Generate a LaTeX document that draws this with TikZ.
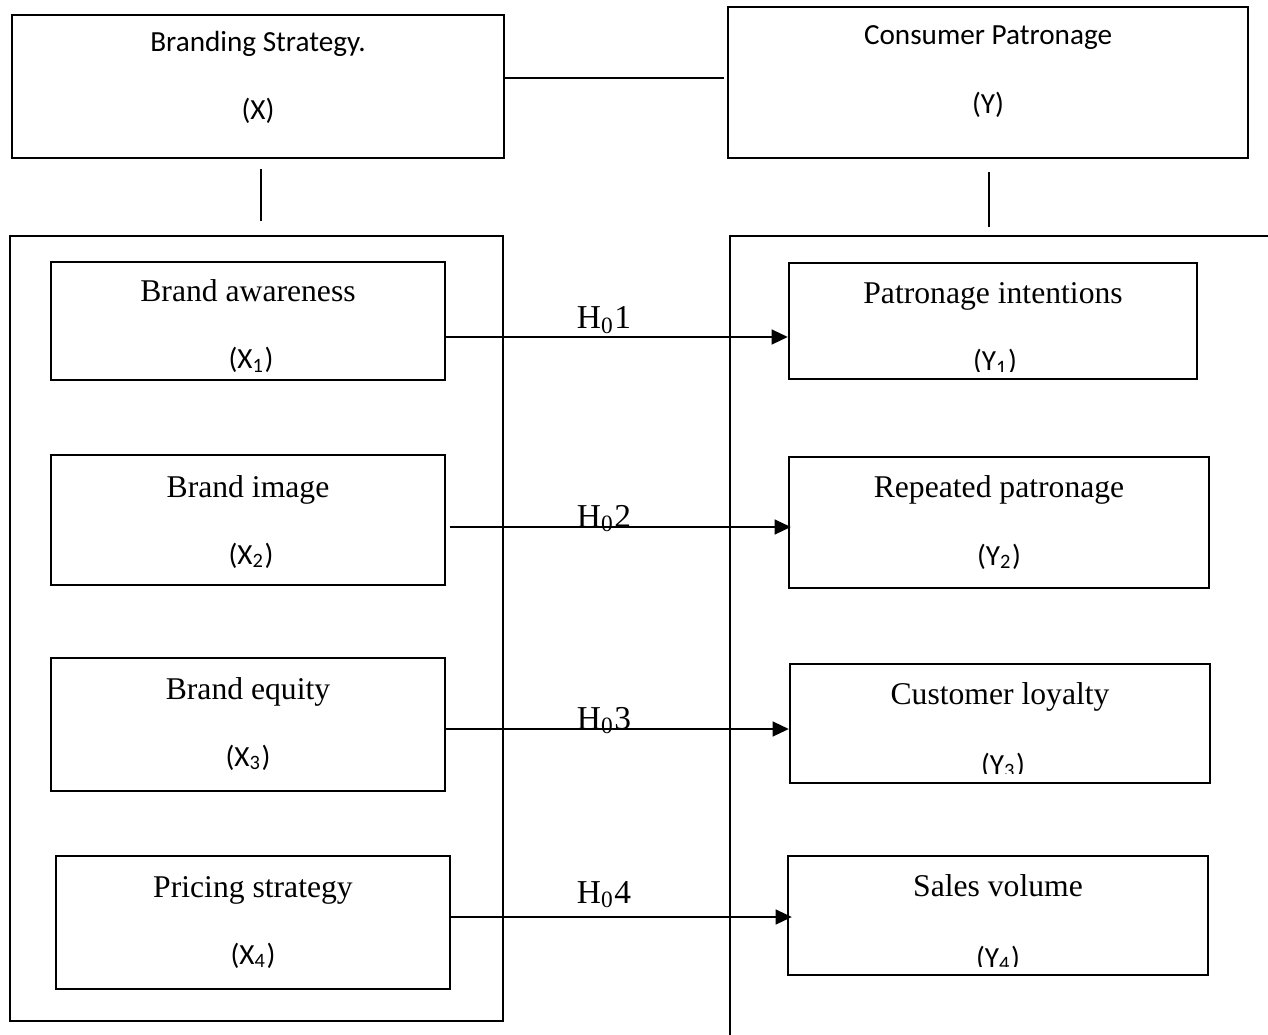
\documentclass[tikz,border=0pt]{standalone}
\usepackage{fontspec}
\setmainfont{Liberation Serif}
\newfontfamily\calfont{Carlito}
\usetikzlibrary{arrows.meta}
\tikzset{
  box/.style={draw, line width=0.6pt, inner sep=0pt},
  title/.style={anchor=base, inner sep=0pt, font=\fontsize{9}{11}\selectfont},
  tag/.style={anchor=base, inner sep=0pt, font=\calfont\fontsize{8.3}{10}\selectfont},
  hyp/.style={anchor=base, inner sep=0pt, font=\fontsize{9.5}{11}\selectfont},
  link/.style={line width=0.6pt},
  arr/.style={line width=0.6pt, -{Triangle[length=4.6pt,width=4.2pt]}},
}
\begin{document}
\begin{tikzpicture}[x=0.01cm, y=-0.01cm]
  \clip (0,0) rectangle (1268,1034);
  \fill[white] (0,0) rectangle (1268,1034);

  % main constructs
  \node[box, minimum width=4.92cm, minimum height=1.43cm] (x) at (258,86.5) {};
  \node[box, minimum width=5.20cm, minimum height=1.51cm] (y) at (988,82.5) {};
  \node[tag] (xt) at (258,52) {Branding Strategy.};
  \node[tag] (xs) at (258,120) {(X)};
  \node[tag] (yt) at (988,45) {Consumer Patronage};
  \node[tag] (ys) at (988,114) {(Y)};

  % groups
  \node[box, minimum width=4.93cm, minimum height=7.85cm] (xgroup) at (256.5,628.5) {};
  \node[box, minimum width=5.70cm, minimum height=8.24cm] (ygroup) at (1015,648) {};

  % dimensions of X
  \node[box, minimum width=3.94cm, minimum height=1.18cm] (x1) at (248,321) {};
  \node[box, minimum width=3.94cm, minimum height=1.30cm] (x2) at (248,520) {};
  \node[box, minimum width=3.94cm, minimum height=1.33cm] (x3) at (248,724.5) {};
  \node[box, minimum width=3.94cm, minimum height=1.33cm] (x4) at (253,922.5) {};
  \node[title] (x1t) at (248,302) {Brand awareness};
  \node[title] (x2t) at (248,497) {Brand image};
  \node[title] (x3t) at (248,699) {Brand equity};
  \node[title] (x4t) at (253,897) {Pricing strategy};
  \begin{scope}
    \clip ([shift={(0,-10)}]x1.south west) rectangle (x1.north east);
    \node[tag] (x1s) at (251,369) {(X\textsubscript{1})};
  \end{scope}
  \node[tag] (x2s) at (251,564) {(X\textsubscript{2})};
  \node[tag] (x3s) at (248,766) {(X\textsubscript{3})};
  \node[tag] (x4s) at (253,964) {(X\textsubscript{4})};

  % dimensions of Y
  \node[box, minimum width=4.08cm, minimum height=1.16cm] (y1) at (993,321) {};
  \node[box, minimum width=4.20cm, minimum height=1.31cm] (y2) at (999,522.5) {};
  \node[box, minimum width=4.20cm, minimum height=1.19cm] (y3) at (1000,723.5) {};
  \node[box, minimum width=4.20cm, minimum height=1.19cm] (y4) at (998,915.5) {};
  \node[title] (y1t) at (993,304) {Patronage intentions};
  \node[title] (y2t) at (999,497) {Repeated patronage};
  \node[title] (y3t) at (1000,704) {Customer loyalty};
  \node[title] (y4t) at (998,896) {Sales volume};
  \begin{scope}
    \clip ([shift={(0,-9)}]y1.south west) rectangle (y1.north east);
    \node[tag] (y1s) at (995,371) {(Y\textsubscript{1})};
  \end{scope}
  \node[tag] (y2s) at (999,565) {(Y\textsubscript{2})};
  \begin{scope}
    \clip ([shift={(0,-11)}]y3.south west) rectangle (y3.north east);
    \node[tag] (y3s) at (1003,774) {(Y\textsubscript{3})};
  \end{scope}
  \begin{scope}
    \clip ([shift={(0,-10)}]y4.south west) rectangle (y4.north east);
    \node[tag] (y4s) at (998,967) {(Y\textsubscript{4})};
  \end{scope}

  % links
  \draw[link] ([shift={(0,-8.5)}]x.east) -- ([shift={(-3,-8.5)}]x.east -| y.west);
  \draw[link] ([shift={(3,10)}]x.south) -- ([shift={(3,-14)}]x.south |- xgroup.north);
  \draw[link] ([shift={(1,13)}]y.south) -- ([shift={(1,-8)}]y.south |- ygroup.north);

  % hypotheses
  \draw[arr] ([shift={(0,16)}]x1.east) -- ([shift={(0,16)}]x1.east -| y1.west);
  \draw[arr] ([shift={(4,7)}]x2.east) -- ([shift={(3,7)}]x2.east -| y2.west);
  \draw[arr] ([shift={(0,4.5)}]x3.east) -- ([shift={(0,4.5)}]x3.east -| y3.west);
  \draw[arr] ([shift={(0,-5.5)}]x4.east) -- ([shift={(5,-5.5)}]x4.east -| y4.west);
  \node[hyp] (h1) at (604,329) {H\textsubscript{0}1};
  \node[hyp] (h2) at (604,527) {H\textsubscript{0}2};
  \node[hyp] (h3) at (604,729) {H\textsubscript{0}3};
  \node[hyp] (h4) at (604,903) {H\textsubscript{0}4};
\end{tikzpicture}
\end{document}
